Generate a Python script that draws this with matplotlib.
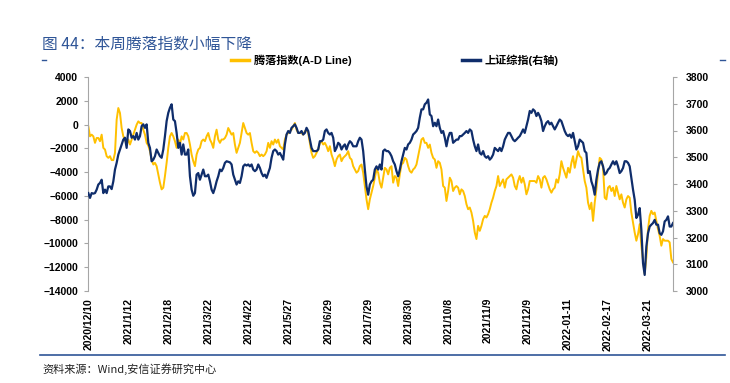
import matplotlib
matplotlib.use("Agg")
import matplotlib.pyplot as plt
from matplotlib.lines import Line2D

plt.rcParams['font.family'] = ['Liberation Sans', 'Noto Sans CJK SC', 'DejaVu Sans']

# 腾落指数 (A-D Line), left axis
ad_line = [
    -150, -990, -850, -990, -1540, -1130, -1130, -1400, -850, -1960, -2100, -2660, -2800, -2660, -2990,
    -2990, -2380, 410, 1390, 970, -290, -990, -1260, -1680, -1260, -1680, -1260, -850, -430, -10,
    270, 130, 130, -430, -850, -1540, -1770, -2240, -2940, -3360, -3220, -3500, -4190, -4890, -5450,
    -5310, -4330, -3220, -1960, -990, -710, -990, -1400, -1960, -1260, -1680, -990, -1260, -710,
    -710, -990, -1680, -2520, -3080, -3500, -2520, -2100, -1960, -1400, -1260, -1400, -990, -710, -1260,
    -1540, -1960, -990, -430, -1260, -1540, -1260, -1260, -1130, -850, -290, -570, -850, -710, -1680,
    -2380, -1960, -1540, -710, 130, -290, -710, -850, -710, -1540, -2240, -2380, -2240, -2380, -2660,
    -2520, -2660, -2520, -2240, -1540, -1960, -1400, -1680, -1260, -1540, -1260, -1820,
    -1960, -2100, -1260, -850, -710, -570, -430, -150, 130, -430, -710, -710, -710, -850, -570,
    -430, -710, -1540, -2380, -2800, -2660, -2380, -2100, -1540, -1400, -1680, -1540, -1820, -2240, -1820,
    -2520, -2940, -3500, -2940, -2660, -2520, -3080, -2800, -2660, -2520, -2240, -2800, -2940, -3500, -3780,
    -4050, -3910, -3500, -3360, -4050, -5170, -6290, -7120, -6290, -5730, -5170, -4470,
    -3780, -4050, -4890, -5310, -4470, -3640, -3780, -4190, -3640, -3500, -4890, -4330, -4470, -5170, -4190,
    -3360, -3220, -2800, -2940, -3500, -3910, -4050, -3780, -3640, -3360, -2660, -1960, -1260, -1130, -1540,
    -1540, -1960, -1680, -2380, -2800, -2940, -3640, -3080, -3220, -3780, -5170, -5310, -6430, -5590, -4470,
    -4750, -5590, -5310, -5170, -5310, -5870, -5450, -5590, -6010, -6700, -7120, -6980,
    -7400, -8100, -9080, -9630, -8520, -8940, -8520, -7960, -7680, -7820, -7540, -7120, -6570, -6150, -5590,
    -5170, -4330, -5170, -4890, -4610, -5310, -4610, -4470, -4330, -4190, -4470, -5170, -5450, -4750, -4330,
    -4890, -4470, -5030, -5870, -5450, -4750, -4750, -4750, -4750, -4890, -4330, -4610, -5310, -4470, -4330,
    -4610, -5030, -5450, -5730, -5450, -5310, -4610, -4890, -4190, -3080, -3640, -4050,
    -4470, -3640, -4050, -3220, -2660, -3640, -2940, -2240, -2660, -2800, -3780, -4750, -5310, -6570, -7120,
    -6570, -8100, -6570, -5450, -4050, -2800, -2940, -3640, -6150, -6290, -5310, -5170, -5590, -5310, -6010,
    -5170, -5730, -6290, -5870, -6570, -6980, -6290, -6010, -6150, -7400, -8240, -9080, -9770, -9220, -8380,
    -10190, -11450, -12560, -11170, -8800, -7680, -7260, -7540, -7400, -8100, -8800, -9360, -10190, -9630, -9770,
    -9770, -9770, -9910, -11310, -11590,
]

# 上证综指, right axis
sh_index = [
    3366, 3348, 3366, 3364, 3366, 3379, 3398, 3404, 3416, 3366, 3379, 3366, 3391, 3391, 3381,
    3410, 3454, 3479, 3510, 3529, 3548, 3566, 3573, 3535, 3604, 3598, 3573, 3579, 3566, 3591,
    3566, 3579, 3616, 3623, 3610, 3623, 3554, 3535, 3485, 3491, 3504, 3529, 3516, 3504, 3498,
    3529, 3579, 3635, 3666, 3685, 3698, 3641, 3635, 3591, 3535, 3554, 3510, 3548, 3510,
    3510, 3529, 3429, 3379, 3356, 3366, 3435, 3441, 3416, 3435, 3454, 3429, 3429, 3435, 3410,
    3379, 3366, 3385, 3410, 3429, 3454, 3448, 3460, 3479, 3485, 3483, 3481, 3473, 3435, 3416,
    3398, 3410, 3404, 3429, 3466, 3473, 3469, 3473, 3466, 3473, 3454, 3448, 3454, 3473, 3460,
    3441, 3429, 3435, 3423, 3441, 3460, 3498, 3523, 3529, 3523, 3510, 3516,
    3504, 3491, 3548, 3585, 3598, 3591, 3610, 3616, 3623, 3610, 3591, 3591, 3598, 3585, 3591,
    3610, 3598, 3566, 3535, 3523, 3523, 3523, 3529, 3560, 3560, 3566, 3598, 3604, 3591, 3585,
    3591, 3573, 3523, 3535, 3554, 3548, 3529, 3541, 3548, 3529, 3548, 3560, 3554, 3541, 3541,
    3541, 3560, 3573, 3566, 3523, 3454, 3391, 3360, 3398, 3410, 3416, 3454,
    3466, 3454, 3473, 3454, 3523, 3529, 3523, 3523, 3516, 3504, 3485, 3473, 3448, 3429, 3454,
    3485, 3510, 3535, 3529, 3548, 3554, 3566, 3585, 3591, 3598, 3610, 3648, 3679, 3679, 3698,
    3704, 3716, 3660, 3654, 3616, 3629, 3616, 3641, 3610, 3591, 3598, 3573, 3541, 3573, 3591,
    3591, 3554, 3560, 3566, 3566, 3579, 3579, 3585, 3591, 3598, 3591, 3604,
    3598, 3566, 3541, 3523, 3548, 3516, 3510, 3523, 3504, 3498, 3504, 3491, 3498, 3510, 3535,
    3529, 3523, 3535, 3523, 3541, 3566, 3579, 3591, 3591, 3579, 3566, 3560, 3566, 3573, 3579,
    3591, 3604, 3591, 3616, 3641, 3673, 3666, 3679, 3673, 3654, 3666, 3654, 3635, 3598, 3616,
    3629, 3635, 3623, 3629, 3616, 3604, 3616, 3629, 3641, 3635, 3616, 3598,
    3585, 3579, 3585, 3573, 3591, 3560, 3529, 3541, 3566, 3560, 3554, 3523, 3516, 3441, 3448,
    3410, 3391, 3360, 3416, 3454, 3479, 3485, 3466, 3435, 3441, 3454, 3460, 3473, 3485, 3473,
    3485, 3466, 3441, 3448, 3460, 3485, 3485, 3479, 3466, 3423, 3379, 3341, 3273, 3285, 3310,
    3229, 3104, 3060, 3166, 3216, 3241, 3248, 3254, 3266, 3248, 3248, 3216, 3210, 3223, 3260,
    3266, 3279, 3241, 3241, 3254,
]

date_labels = [
    '2020/12/10', '2021/1/12', '2021/2/18', '2021/3/22', '2021/4/22', '2021/5/27', '2021/6/29',
    '2021/7/29', '2021/8/30', '2021/10/8', '2021/11/9', '2021/12/9', '2022-01-11', '2022-02-17',
    '2022-03-21',
]

YELLOW = '#FFC000'
NAVY = '#0F2D6B'
TITLE_BLUE = '#2F5597'
GRAY = '#A6A6A6'

x = list(range(len(ad_line)))

fig = plt.figure(figsize=(7.3, 3.83), dpi=100)
ax = fig.add_axes([88 / 730, 92 / 383, 585 / 730, 214 / 383])
ax2 = ax.twinx()

ax.plot(x, ad_line, color=YELLOW, lw=1.4)
ax2.plot(x, sh_index, color=NAVY, lw=1.6)

ax.set_xlim(-0.2, len(x) - 1)
ax.set_ylim(-14000, 4000)
ax.set_yticks(range(-14000, 4001, 2000))
ax2.set_ylim(3000, 3800)
ax2.set_yticks(range(3000, 3801, 100))

ax.set_xticks(range(0, 24 * len(date_labels), 24))
ax.set_xticklabels(date_labels, rotation=90, fontsize=7.5, fontweight='bold')
ax.tick_params(axis='x', length=0, pad=5)
ax.tick_params(axis='y', length=3, color=GRAY, pad=4, labelsize=7.5)
ax2.tick_params(axis='y', length=3, color=GRAY, pad=6, labelsize=7.5)
for lab in ax.get_yticklabels() + ax2.get_yticklabels():
    lab.set_fontweight('bold')

for a in (ax, ax2):
    a.spines['top'].set_visible(False)
    a.spines['bottom'].set_visible(False)
    a.patch.set_visible(False)
ax.spines['right'].set_visible(False)
ax2.spines['left'].set_visible(False)
ax.spines['left'].set_color(GRAY)
ax2.spines['right'].set_color(GRAY)

handles = [Line2D([], [], color=YELLOW, lw=2.5), Line2D([], [], color=NAVY, lw=2.5)]
fig.legend(handles, ['腾落指数(A-D Line)', '上证综指(右轴)'], loc='center',
           bbox_to_anchor=(395 / 730, 1 - 60 / 383), ncol=2, frameon=False,
           prop={'size': 8, 'weight': 'bold'}, handlelength=1.6, handletextpad=0.4,
           columnspacing=10)

fig.text(42 / 730, 1 - 44 / 383, '图 44：本周腾落指数小幅下降', color=TITLE_BLUE,
         fontsize=11.3, va='center', ha='left', fontweight='light',
         family=['Noto Sans CJK SC', 'DejaVu Sans'])
fig.add_artist(Line2D([42 / 730, 46 / 730], [1 - 60 / 383] * 2, color=TITLE_BLUE, lw=1))
fig.add_artist(Line2D([720 / 730, 725 / 730], [1 - 60 / 383] * 2, color=TITLE_BLUE, lw=1))

fig.add_artist(Line2D([40 / 730, 725 / 730], [1 - 355 / 383] * 2, color=TITLE_BLUE, lw=1.2))
fig.text(42 / 730, 1 - 369 / 383, '资料来源：Wind,安信证券研究中心', color='#222222',
         fontsize=8, va='center', ha='left', style='italic', fontweight='light',
         family=['Noto Sans CJK SC', 'DejaVu Sans'])

fig.savefig('out.png', dpi=100)
